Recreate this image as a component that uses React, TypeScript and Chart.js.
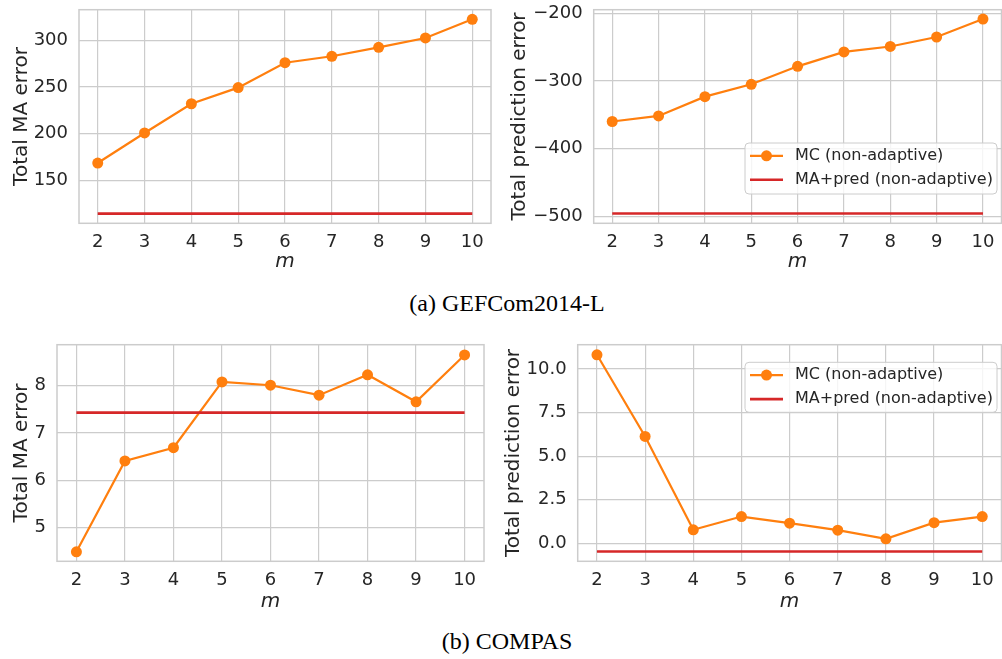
import React, { useEffect, useRef } from "react";
import { Chart, registerables } from "chart.js";

Chart.register(...registerables);

// ---------------- data ----------------
const mValues = [2, 3, 4, 5, 6, 7, 8, 9, 10];

const gefMaMC = [168.5, 200.7, 232.0, 249.3, 276.0, 282.9, 292.5, 302.5, 322.5];
const gefMaBaseline = 114.3;
const gefPredMC = [-360.0, -351.8, -323.2, -305.0, -278.4, -257.0, -249.0, -235.0, -208.5];
const gefPredBaseline = -496.0;

const compasMaMC = [4.49, 6.41, 6.69, 8.08, 8.01, 7.8, 8.23, 7.66, 8.65];
const compasMaBaseline = 7.43;
const compasPredMC = [10.82, 6.13, 0.77, 1.53, 1.15, 0.75, 0.25, 1.18, 1.53];
const compasPredBaseline = -0.48;

const xTicks = [2, 3, 4, 5, 6, 7, 8, 9, 10];
const gefMaTicks = [150, 200, 250, 300];
const gefPredTicks = [-500, -400, -300, -200];
const compasMaTicks = [5, 6, 7, 8];
const compasPredTicks = [0, 2.5, 5, 7.5, 10];

const mcLabel = "MC (non-adaptive)";
const maLabel = "MA+pred (non-adaptive)";
const yLabelMA = "Total MA error";
const yLabelPred = "Total prediction error";
const xLabel = "m";
const captionA = "(a) GEFCom2014-L";
const captionB = "(b) COMPAS";

// ---------------- styles ----------------
const ORANGE = "#ff7f0e";
const RED = "#d62728";
const GRID = "#cccccc";
const TEXT = "#262626";
const FONT = "'DejaVu Sans', sans-serif";

Chart.defaults.font.family = FONT;

type LegendBox = { x: number; y: number; w: number; h: number };
type Panel = {
  key: string;
  left: number;
  top: number;
  width: number;
  height: number;
  plotLeft: number;
  plotTop: number;
  plotRight: number;
  plotBottom: number;
  mc: number[];
  base: number;
  yTicks: number[];
  yMin: number;
  yMax: number;
  yLabel: string;
  decimals: number;
  titlePad: number;
  legend?: LegendBox;
};

const panels: Panel[] = [
  {
    key: "a1", left: 0, top: 0, width: 500, height: 280,
    plotLeft: 79, plotTop: 9.7, plotRight: 491, plotBottom: 223.3,
    mc: gefMaMC, base: gefMaBaseline, yTicks: gefMaTicks, yMin: 103.9, yMax: 332.8,
    yLabel: yLabelMA, decimals: 0, titlePad: 9.5,
  },
  {
    key: "a2", left: 500, top: 0, width: 507, height: 280,
    plotLeft: 593.7, plotTop: 9.7, plotRight: 1005.4, plotBottom: 223.3,
    mc: gefPredMC, base: gefPredBaseline, yTicks: gefPredTicks, yMin: -510.6, yMax: -194.6,
    yLabel: yLabelPred, decimals: 0, titlePad: 7.6,
    legend: { x: 745, y: 143, w: 252, h: 51 },
  },
  {
    key: "b1", left: 0, top: 330, width: 500, height: 290,
    plotLeft: 57, plotTop: 344.7, plotRight: 484, plotBottom: 561.3,
    mc: compasMaMC, base: compasMaBaseline, yTicks: compasMaTicks, yMin: 4.29, yMax: 8.866,
    yLabel: yLabelMA, decimals: 0, titlePad: 9.5,
  },
  {
    key: "b2", left: 500, top: 330, width: 507, height: 290,
    plotLeft: 577.7, plotTop: 344.7, plotRight: 1005.5, plotBottom: 561.3,
    mc: compasPredMC, base: compasPredBaseline, yTicks: compasPredTicks, yMin: -1.04, yMax: 11.4,
    yLabel: yLabelPred, decimals: 1, titlePad: 1.6,
    legend: { x: 745, y: 362.3, w: 252, h: 50 },
  },
];

const fmt = (v: number, d: number) => {
  const s = Math.abs(v).toFixed(d);
  return v < 0 ? "\u2212" + s : s;
};

const framePlugin = {
  id: "frame",
  beforeDatasetsDraw(chart: any) {
    const { ctx, chartArea: a } = chart;
    ctx.save();
    ctx.strokeStyle = GRID;
    ctx.lineWidth = 1.5;
    ctx.strokeRect(a.left, a.top, a.right - a.left, a.bottom - a.top);
    ctx.restore();
  },
};

const boxLegendPlugin = {
  id: "boxLegend",
  afterDatasetsDraw(chart: any, _args: any, opts: any) {
    if (!opts || !opts.show) return;
    const { ctx } = chart;
    const { x, y, w, h } = opts;
    ctx.save();
    const r = 4;
    ctx.beginPath();
    ctx.moveTo(x + r, y);
    ctx.lineTo(x + w - r, y);
    ctx.arcTo(x + w, y, x + w, y + r, r);
    ctx.lineTo(x + w, y + h - r);
    ctx.arcTo(x + w, y + h, x + w - r, y + h, r);
    ctx.lineTo(x + r, y + h);
    ctx.arcTo(x, y + h, x, y + h - r, r);
    ctx.lineTo(x, y + r);
    ctx.arcTo(x, y, x + r, y, r);
    ctx.closePath();
    ctx.fillStyle = "rgba(255,255,255,0.8)";
    ctx.fill();
    ctx.strokeStyle = GRID;
    ctx.lineWidth = 1;
    ctx.stroke();

    const rowOffsets = [12.8, 36.8];
    chart.data.datasets.forEach((ds: any, i: number) => {
      const cy = y + rowOffsets[i];
      const x0 = x + 5;
      const x1 = x + 38;
      ctx.beginPath();
      ctx.moveTo(x0, cy);
      ctx.lineTo(x1, cy);
      ctx.strokeStyle = ds.borderColor;
      ctx.lineWidth = ds.borderWidth;
      ctx.stroke();
      if (ds.pointRadius > 0) {
        ctx.beginPath();
        ctx.arc((x0 + x1) / 2, cy, ds.pointRadius, 0, Math.PI * 2);
        ctx.fillStyle = ds.borderColor;
        ctx.fill();
      }
      ctx.fillStyle = TEXT;
      ctx.font = `16px ${FONT}`;
      ctx.textBaseline = "middle";
      ctx.textAlign = "left";
      ctx.fillText(ds.label, x + 50, cy);
    });
    ctx.restore();
  },
};

function PanelChart({ p }: { p: Panel }) {
  const ref = useRef<HTMLCanvasElement | null>(null);
  useEffect(() => {
    if (!ref.current) return;
    const xAxisHeight = p.top + p.height - p.plotBottom;
    const yAxisWidth = p.plotLeft - p.left;
    const chart = new Chart(ref.current, {
      type: "line",
      data: {
        datasets: [
          {
            label: mcLabel,
            data: mValues.map((m, i) => ({ x: m, y: p.mc[i] })),
            borderColor: ORANGE,
            backgroundColor: ORANGE,
            borderWidth: 2.2,
            pointRadius: 5.5,
            pointBackgroundColor: ORANGE,
            pointBorderColor: ORANGE,
            pointBorderWidth: 0,
            tension: 0,
            order: 1,
          },
          {
            label: maLabel,
            data: mValues.map((m) => ({ x: m, y: p.base })),
            borderColor: RED,
            backgroundColor: RED,
            borderWidth: 2.6,
            pointRadius: 0,
            tension: 0,
            order: 0,
          },
        ],
      } as any,
      options: {
        animation: false,
        responsive: false,
        maintainAspectRatio: false,
        devicePixelRatio: 1,
        layout: {
          padding: {
            left: 0,
            top: p.plotTop - p.top,
            right: p.left + p.width - p.plotRight,
            bottom: 0,
          },
        },
        plugins: {
          legend: { display: false },
          tooltip: { enabled: false },
          boxLegend: p.legend
            ? { show: true, x: p.legend.x - p.left, y: p.legend.y - p.top, w: p.legend.w, h: p.legend.h }
            : { show: false },
        } as any,
        scales: {
          x: {
            type: "linear",
            min: 1.6,
            max: 10.4,
            afterBuildTicks: (s: any) => {
              s.ticks = xTicks.map((v) => ({ value: v }));
            },
            afterFit: (s: any) => {
              s.height = xAxisHeight;
              s.paddingLeft = 0;
              s.paddingRight = 0;
            },
            grid: { color: GRID, lineWidth: 1.2, drawTicks: false },
            border: { display: false },
            ticks: {
              color: TEXT,
              font: { size: 18, family: FONT },
              padding: 8,
              maxRotation: 0,
              autoSkip: false,
              callback: (v: any) => String(v),
            },
            title: {
              display: true,
              text: xLabel,
              color: TEXT,
              font: { size: 20, style: "italic", family: FONT },
              padding: { top: 0, bottom: 6.6 },
            },
          },
          y: {
            type: "linear",
            min: p.yMin,
            max: p.yMax,
            afterBuildTicks: (s: any) => {
              s.ticks = p.yTicks.map((v) => ({ value: v }));
            },
            afterFit: (s: any) => {
              s.width = yAxisWidth;
              s.paddingTop = 0;
              s.paddingBottom = 0;
            },
            grid: { color: GRID, lineWidth: 1.2, drawTicks: false },
            border: { display: false },
            ticks: {
              color: TEXT,
              font: { size: 18, family: FONT },
              padding: 11,
              autoSkip: false,
              callback: (v: any) => fmt(Number(v), p.decimals),
            },
            title: {
              display: true,
              text: p.yLabel,
              color: TEXT,
              font: { size: 20, family: FONT },
              padding: { top: p.titlePad, bottom: 0 },
            },
          },
        },
      } as any,
      plugins: [framePlugin, boxLegendPlugin],
    });
    return () => chart.destroy();
  }, [p]);
  return (
    <canvas
      ref={ref}
      width={p.width}
      height={p.height}
      style={{ position: "absolute", left: p.left, top: p.top, width: p.width, height: p.height }}
    />
  );
}

const captionStyle: React.CSSProperties = {
  position: "absolute",
  left: 207,
  width: 600,
  textAlign: "center",
  fontFamily: "'Liberation Serif', 'Times New Roman', serif",
  fontSize: 24,
  lineHeight: "24px",
  color: "#000",
  whiteSpace: "nowrap",
};

export default function App() {
  return (
    <div
      style={{
        position: "absolute",
        left: 0,
        top: 0,
        width: 1002,
        height: 659,
        overflow: "hidden",
        background: "#fff",
      }}
    >
      {panels.map((p) => (
        <PanelChart key={p.key} p={p} />
      ))}
      <div style={{ ...captionStyle, top: 291 }}>{captionA}</div>
      <div style={{ ...captionStyle, top: 629 }}>{captionB}</div>
    </div>
  );
}
